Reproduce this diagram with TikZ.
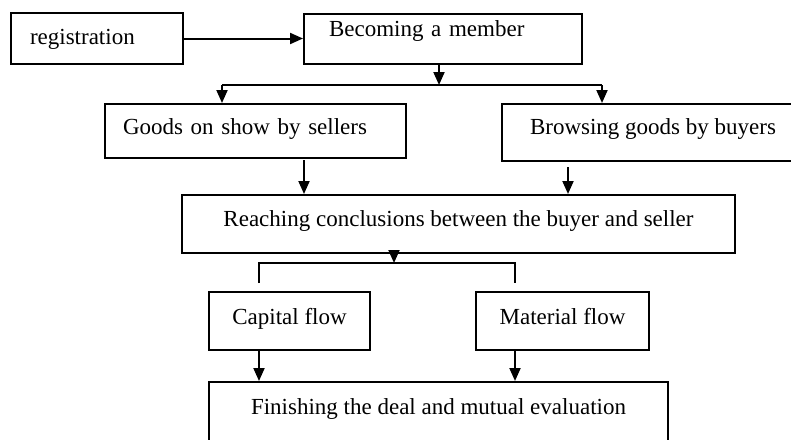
\documentclass[tikz,border=0pt]{standalone}
\usepackage{fontspec}
\setmainfont{Liberation Serif}
\usetikzlibrary{arrows.meta}
\tikzset{
  box/.style={draw, line width=2pt, inner sep=0pt, anchor=north west, font=\fontsize{23}{27}\selectfont},
  arr/.style={-{Triangle[length=13pt,width=11pt]}, line width=2pt},
  ln/.style={line width=2pt}
}
\begin{document}
\begin{tikzpicture}[x=1pt,y=-1pt]
   \useasboundingbox (0,0) rectangle (791,439);
   \clip (0,0) rectangle (791,439);

                \node[box, inner xsep=19pt, text width=134pt, align=left, text height=31pt, text depth=20pt] (reg) at (10,12) {registration};
                \node[box, inner xsep=25pt, text width=228pt, align=left, text height=22pt, text depth=28pt] (member) at (303,13) {Becoming a member};
                \node[box, inner xsep=18pt, text width=265pt, align=left, text height=30pt, text depth=24pt] (goods) at (104,103) {Goods on show by sellers};
                \node[box, minimum width=302pt, text height=30pt, text depth=27pt] (browse) at (501,103) {Browsing goods by buyers};
                \node[box, minimum width=553pt, text height=31pt, text depth=27pt] (reach) at (181,194) {Reaching conclusions between the buyer and seller};
                \node[box, minimum width=161pt, text height=32pt, text depth=26pt] (capital) at (208,291) {Capital flow};
                \node[box, minimum width=173pt, text height=32pt, text depth=26pt] (material) at (475,291) {Material flow};
                \node[box, minimum width=459pt, text height=32pt, text depth=60pt] (finish) at (208,381) {Finishing the deal and mutual evaluation};

                \coordinate (s1)  at (439,85);  %split under member
                \coordinate (s1l) at (222,85);
                \coordinate (s1r) at (602,85);
                \coordinate (g1)  at (304,160); %under goods
                \coordinate (b1)  at (568,167); %under browse
                \coordinate (s2)  at (394,263); %split under reach
                \coordinate (s2l) at (259,263);
                \coordinate (s2r) at (515,263);
                \coordinate (t1)  at (259,283);
                \coordinate (t2)  at (515,283);

                \draw[arr] (reg) -- (member.west |- reg);
                \draw[arr] (member.south -| s1) -- (s1);
                \draw[ln] (s1l) -- (s1r);
                \draw[arr] (s1l) -- (s1l |- goods.north);
                \draw[arr] (s1r) -- (s1r |- browse.north);
                \foreach \P in {g1,b1} \draw[arr] (\P) -- (\P |- reach.north);
                \draw[arr] (reach.south -| s2) -- (s2);
                \draw[ln] (t1) -- (s2l) -- (s2r) -- (t2);
                \draw[arr] (capital.south -| s2l) -- (s2l |- finish.north);
                \draw[arr] (material.south -| s2r) -- (s2r |- finish.north);

\end{tikzpicture}
\end{document}
